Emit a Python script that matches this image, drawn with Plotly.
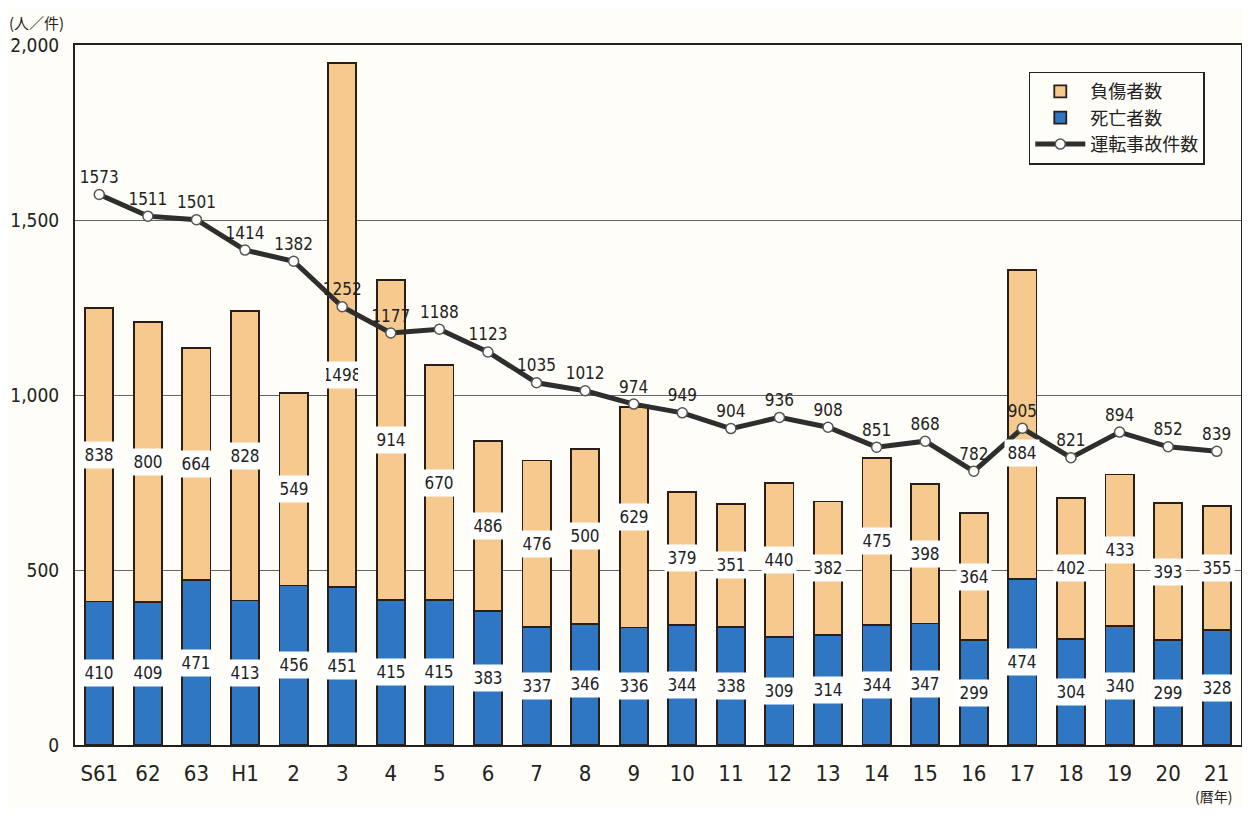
import plotly.graph_objects as go

categories = ["S61", "62", "63", "H1", "2", "3", "4", "5", "6", "7", "8", "9",
              "10", "11", "12", "13", "14", "15", "16", "17", "18", "19", "20", "21"]
deaths = [410, 409, 471, 413, 456, 451, 415, 415, 383, 337, 346, 336,
          344, 338, 309, 314, 344, 347, 299, 474, 304, 340, 299, 328]
injured = [838, 800, 664, 828, 549, 1498, 914, 670, 486, 476, 500, 629,
           379, 351, 440, 382, 475, 398, 364, 884, 402, 433, 393, 355]
accidents = [1573, 1511, 1501, 1414, 1382, 1252, 1177, 1188, 1123, 1035, 1012, 974,
             949, 904, 936, 908, 851, 868, 782, 905, 821, 894, 852, 839]

NUM_FONT = "Liberation Sans Narrow, DejaVu Sans Condensed, Arial Narrow, sans-serif"
JP_FONT = "Noto Sans CJK JP, sans-serif"
TAN = "#F6C98F"
BLUE = "#2F77C3"
EDGE = "#2b1d18"

# label nudges (pixels) so injured-count labels avoid the line labels
label_nudge = {"3": -50, "17": -29}

fig = go.Figure()
fig.add_trace(go.Bar(x=categories, y=deaths, name="死亡者数", legendrank=2,
                     marker=dict(color=BLUE, line=dict(color=EDGE, width=1.8)),
                     width=0.58, hoverinfo="y"))
fig.add_trace(go.Bar(x=categories, y=injured, name="負傷者数", legendrank=1,
                     marker=dict(color=TAN, line=dict(color=EDGE, width=1.8)),
                     width=0.58, hoverinfo="y"))
fig.add_trace(go.Scatter(x=categories, y=accidents, name="運転事故件数", legendrank=3,
                         mode="lines+markers+text",
                         line=dict(color="#2e2e2e", width=5),
                         marker=dict(color="white", size=10, line=dict(color="#555", width=1.5)),
                         text=[str(v) for v in accidents], textposition="top center",
                         textfont=dict(family=NUM_FONT, size=17, color="#222")))

annotations = []
for idx, (c, d, i) in enumerate(zip(categories, deaths, injured)):
    annotations.append(dict(x=idx, y=d / 2, text=str(d), showarrow=False,
                            bgcolor="white", width=32, height=24,
                            font=dict(family=NUM_FONT, size=17, color="#222")))
    annotations.append(dict(x=idx, y=d + i / 2, text=str(i), showarrow=False,
                            yshift=label_nudge.get(c, 0),
                            bgcolor="white", width=32, height=24,
                            font=dict(family=NUM_FONT, size=17, color="#222")))

annotations.append(dict(xref="paper", yref="paper", x=-0.058, y=1.05, xanchor="left", yanchor="top",
                        text="(人／件)", showarrow=False,
                        font=dict(family=JP_FONT, size=15, color="#222")))
annotations.append(dict(xref="paper", yref="paper", x=0.976, y=-0.09, xanchor="center", yanchor="bottom",
                        text="(暦年)", showarrow=False,
                        font=dict(family=JP_FONT, size=14, color="#222")))

fig.update_layout(
    width=1236, height=800,
    margin=dict(l=67, r=1, t=37, b=63),
    barmode="stack",
    paper_bgcolor="#FFFDF7",
    plot_bgcolor="#FFFDF7",
    showlegend=True,
    legend=dict(x=0.818, y=0.962, xanchor="left", yanchor="top",
                traceorder="normal",
                bordercolor="#222", borderwidth=1.5, bgcolor="#FFFDF7",
                font=dict(family=JP_FONT, size=18, color="#222"),
                tracegroupgap=4, itemwidth=50),
    annotations=annotations,
    xaxis=dict(type="category", range=[-0.5, 23.5], showgrid=False, showline=True, linecolor="#222",
               linewidth=2, mirror=True, ticks="",
               tickfont=dict(family=NUM_FONT, size=22, color="#222"), ticklabelstandoff=8),
    yaxis=dict(range=[0, 2000], tickvals=[0, 500, 1000, 1500, 2000],
               ticktext=["0", "500", "1,000", "1,500", "2,000"],
               showgrid=True, gridcolor="#666", gridwidth=1,
               showline=True, linecolor="#222", linewidth=2, mirror=True,
               ticks="", zeroline=False,
               tickfont=dict(family=NUM_FONT, size=19, color="#222"), ticklabelstandoff=10),
)

fig.write_html("out.html")
